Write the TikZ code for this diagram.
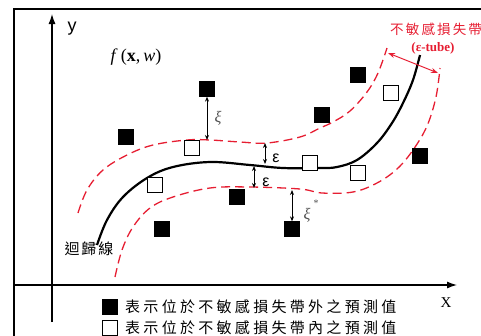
\documentclass[tikz,border=0pt]{standalone}
\usepackage{fontspec}
\setmainfont{Liberation Serif}
\newfontfamily\sansf{Liberation Sans}
\newfontfamily\cjkleg[LetterSpace=22]{Noto Sans CJK TC}
\newfontfamily\cjkred[LetterSpace=16]{Noto Sans CJK TC}
\newfontfamily\cjkreg[LetterSpace=12]{Noto Sans CJK TC}
\usetikzlibrary{arrows.meta}
\definecolor{tubered}{RGB}{230,30,50}
\definecolor{xigrey}{RGB}{80,80,80}
\tikzset{
  fsq/.style={draw=black,fill=black,minimum size=14.5pt,inner sep=0pt,line width=0.8pt},
  osq/.style={draw=black,fill=white,minimum size=14.5pt,inner sep=0pt,line width=1pt},
  tube/.style={tubered,line width=1.3pt,dash pattern=on 9pt off 5pt},
  regline/.style={black,line width=2.2pt},
  axisline/.style={black,line width=1.2pt},
  gap/.style={black,line width=1pt,{Stealth[length=5pt,width=4pt]}-{Stealth[length=5pt,width=4pt]}},
  lbl/.style={inner sep=0pt}
}
\begin{document}
\begin{tikzpicture}[x=1pt,y=-1pt]
\useasboundingbox (0,0) rectangle (481,335);
% frame
\draw[line width=2.4pt] (14,340) -- (14,9) -- (485,9);
% axes
\coordinate (yb) at (52,322);
\coordinate (yt) at (52,14);
\coordinate (xl) at (14,285);
\coordinate (xr) at (457,285);
\draw[axisline,-{Latex[length=10pt,width=7pt]}] (yb) -- (yt);
\draw[axisline,-{Latex[length=10pt,width=7pt]}] (xl) -- (xr);
\node[lbl,font=\sansf\fontsize{18}{18}\selectfont] (ylab) at (72,29) {y};
\node[lbl,font=\fontsize{15}{15}\selectfont] (xlab) at (446,303) {X};
% tube curves
\draw[tube] plot[smooth,tension=0.6] coordinates {(78,213) (87,190) (103,170) (127,155) (153,145) (187,140) (210,140) (240,142) (267,143) (300,137) (320,128) (333,122) (350,111) (367,92) (378,73) (387,48)};
\draw[tube] plot[smooth,tension=0.6] coordinates {(115,277) (122,250) (133,227) (150,208) (173,197) (210,188) (250,187) (300,189) (322,193) (353,192) (377,183) (397,169) (413,150) (427,126) (436,97) (440,68)};
% regression line
\draw[regline] plot[smooth,tension=0.6] coordinates {(97,245) (107,220) (123,197) (147,178) (173,167) (210,162) (250,165) (283,168) (320,168) (337,167) (357,160) (377,143) (392,123) (403,103) (413,80) (420,55)};
% labels
\node[lbl,font=\fontsize{18}{18}\selectfont] (flab) at (136,57) {\textit{f}\,(\textbf{x},\,\textit{w})};
\node[lbl,font=\cjkreg\fontsize{15}{15}\selectfont] (reglab) at (89,249) {迴歸線};
\node[lbl,font=\cjkred\fontsize{13.5}{13.5}\selectfont,text=tubered,anchor=west] (tubecn) at (390,29) {不敏感損失帶};
\node[lbl,font=\bfseries\fontsize{13}{13}\selectfont,text=tubered] (tubeen) at (433,48) {(ε-tube)};
% tube width arrow
\coordinate (ta) at (388,53);
\coordinate (tb) at (438,73);
\draw[tubered,line width=1pt,{Stealth[length=7pt,width=5pt]}-{Stealth[length=7pt,width=5pt]}] (ta) -- (tb);
% squares outside
\node[fsq] (f1) at (207,89) {};
\node[fsq] (f2) at (126,137) {};
\node[fsq] (f3) at (358,75) {};
\node[fsq] (f4) at (322,115) {};
\node[fsq] (f5) at (420,156) {};
\node[fsq] (f6) at (237,197) {};
\node[fsq] (f7) at (162,229) {};
\node[fsq] (f8) at (292,229) {};
% squares inside
\node[osq] (o1) at (192,148) {};
\node[osq] (o2) at (155,185) {};
\node[osq] (o3) at (310,163) {};
\node[osq] (o4) at (391,93) {};
\node[osq] (o5) at (358,173) {};
% epsilon arrows
\coordinate (e1a) at (265,143);
\coordinate (e1b) at (265,164);
\draw[gap] (e1a) -- (e1b);
\node[lbl,font=\sansf\fontsize{16}{16}\selectfont] (eps1) at (276,158) {ε};
\coordinate (e2a) at (254,166);
\coordinate (e2b) at (254,188);
\draw[gap] (e2a) -- (e2b);
\node[lbl,font=\sansf\fontsize{16}{16}\selectfont] (eps2) at (266,182) {ε};
% xi arrows
\coordinate (xia) at (207,140);
\draw[gap] (f1.south) -- (xia);
\node[lbl,font=\itshape\fontsize{16}{16}\selectfont,text=xigrey] (xi) at (218,118) {ξ};
\coordinate (xsa) at (292,190);
\draw[gap] (xsa) -- (f8.north);
\node[lbl,font=\itshape\fontsize{16}{16}\selectfont,text=xigrey] (xis) at (307,215) {ξ};
\node[lbl,font=\fontsize{10}{10}\selectfont,text=xigrey] (xisstar) at (316,203) {*};
% legend
\node[fsq] (lf) at (110,307) {};
\node[lbl,font=\cjkleg\fontsize{15}{15}\selectfont,anchor=west] (lft) at (125,307) {表示位於不敏感損失帶外之預測值};
\node[osq] (lo) at (110,328) {};
\node[lbl,font=\cjkleg\fontsize{15}{15}\selectfont,anchor=west] (lot) at (125,328) {表示位於不敏感損失帶內之預測值};
\end{tikzpicture}
\end{document}
